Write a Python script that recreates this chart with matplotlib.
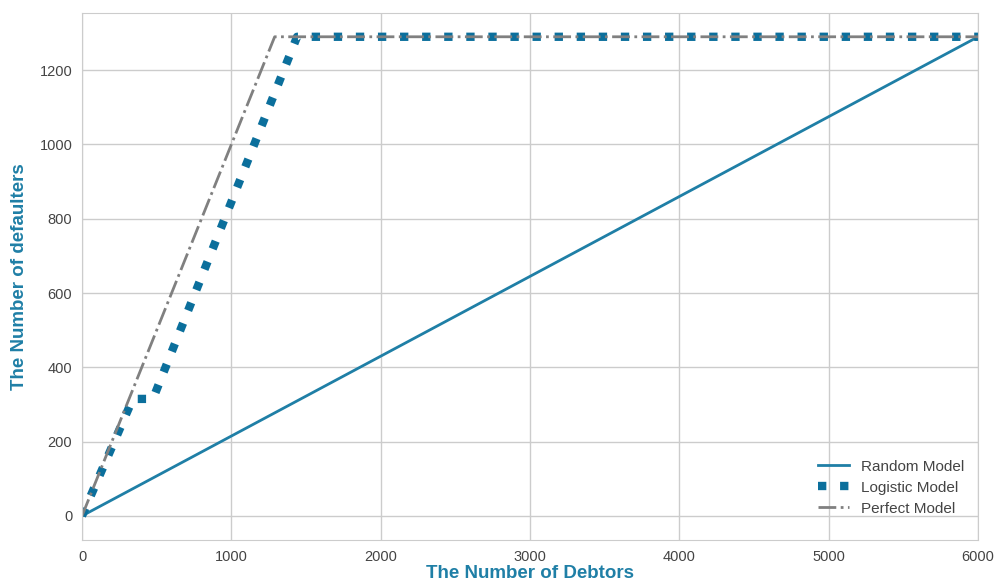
import numpy as np
import matplotlib.pyplot as plt

# Daugiausiai vertės nuskaitytos nuo paveikslėlio
total_debtors = 6000
total_defaulters = 1290

random_x = [0, 6000]
random_y = [0, 1290]

logistic_x = [0, 340, 475, 1440, 6000]
logistic_y = [0, 315, 315, 1290, 1290]

perfect_x = [0, 1290, 6000]
perfect_y = [0, 1290, 1290]

plt.rcParams['font.family'] = ['Liberation Sans', 'DejaVu Sans']
fig = plt.figure(figsize=(9.94, 5.83), dpi=100)
ax = fig.add_axes([0.0825, 0.074, 0.9015, 0.904])

ax.plot(random_x, random_y, color="#1f7fa6", linewidth=2, label="Random Model")
ax.plot(logistic_x, logistic_y, color="#0b6f9c", linewidth=6, linestyle=":", label="Logistic Model")
ax.plot(perfect_x, perfect_y, color="#808080", linewidth=2, linestyle="-.", label="Perfect Model")

ax.set_xlim(0, total_debtors)
ax.set_ylim(-64.5, 1354.5)
ax.set_xticks([0, 1000, 2000, 3000, 4000, 5000, 6000])
ax.set_yticks([0, 200, 400, 600, 800, 1000, 1200])
ax.grid(True, color="#cccccc", linewidth=1)
ax.set_axisbelow(True)
for s in ax.spines.values():
    s.set_color("#cccccc")
ax.tick_params(length=0, labelsize=10.5, colors="#444444", pad=7)

ax.set_xlabel("The Number of Debtors", color="#1f7fa6", fontsize=13.5, fontweight="bold", labelpad=1)
ax.set_ylabel("The Number of defaulters", color="#1f7fa6", fontsize=13.5, fontweight="bold", labelpad=8)

leg = ax.legend(loc="lower right", frameon=False, fontsize=11,
                bbox_to_anchor=(1.0, 0.02), labelspacing=0.45)
for t in leg.get_texts():
    t.set_color("#444444")

fig.savefig("out.png", dpi=100)
